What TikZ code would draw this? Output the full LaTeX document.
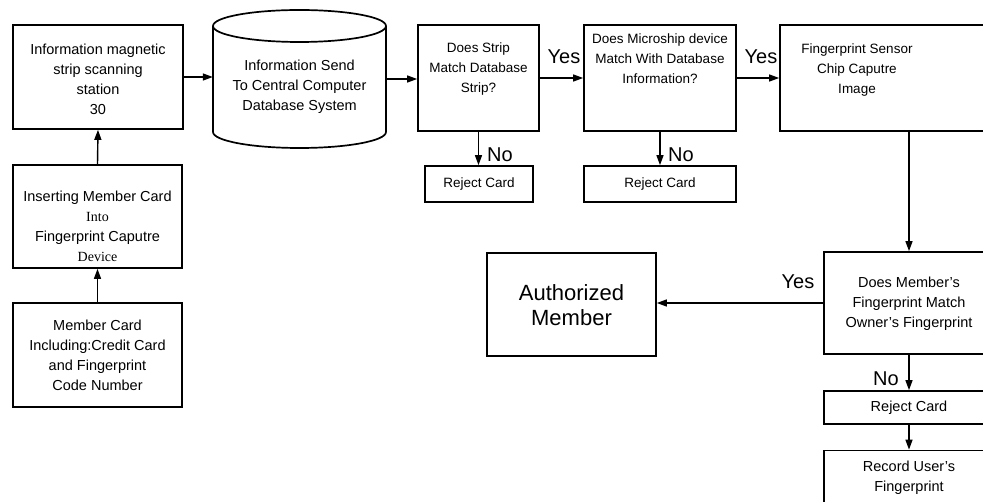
\documentclass[tikz,border=0pt]{standalone}
\usepackage{fontspec}
\setmainfont{Liberation Sans}
\newfontfamily\serifb{Liberation Serif}
\usetikzlibrary{arrows.meta}
\begin{document}
\begin{tikzpicture}[x=1pt,y=-1pt,
  box/.style={draw,line width=1.7pt,rectangle,inner sep=0pt},
  ghost/.style={rectangle,inner sep=0pt},
  txt/.style={align=center,inner sep=0pt,font=\fontsize{14.5}{20}\selectfont},
  txts/.style={align=center,inner sep=0pt,font=\fontsize{13.5}{20}\selectfont},
  lbl/.style={inner sep=0pt,font=\fontsize{20}{22}\selectfont},
  conn/.style={line width=1.4pt,-{Triangle[length=10pt,width=7pt]}}]
\path[use as bounding box,fill=white] (0,0) rectangle (983,502);
\clip (0,0) rectangle (983,502);
% boxes
\node[box,minimum width=170,minimum height=104] (b1) at (98,77) {};
\node[txt] (b1t) at (98,79) {Information magnetic\\strip scanning\\station\\30};
\node[ghost,minimum width=173,minimum height=138] (cyl) at (299.5,79) {};
\draw[line width=1.7pt] (299.5,26) ellipse [x radius=86.5pt, y radius=16pt];
\draw[line width=1.7pt] (213,26) -- (213,132) arc[start angle=180,end angle=360,x radius=86.5pt,y radius=16pt] -- (386,26);
\node[txt] (cylt) at (299.5,87) {Information Send\\To Central Computer\\Database System};
\node[box,minimum width=121,minimum height=106] (b3) at (478.5,78) {};
\node[txts] (b3t) at (478.5,69) {Does Strip\\Match Database\\Strip?};
\node[box,minimum width=152,minimum height=106] (b4) at (660,78) {};
\node[txts] (b4t) at (660,59) {Does Microship device\\Match With Database\\Information?};
\node[box,minimum width=258,minimum height=106] (b5) at (909,78) {};
\node[txts] (b5t) at (857,70) {Fingerprint Sensor\\Chip Caputre\\Image};
\node[box,minimum width=108,minimum height=36] (r1) at (479,184) {};
\node[txts] (r1t) at (479,184) {Reject Card};
\node[box,minimum width=152,minimum height=36] (r2) at (660,184) {};
\node[txts] (r2t) at (660,184) {Reject Card};
\node[box,minimum width=169,minimum height=103] (b2) at (97.5,216.5) {};
\node[txt] (b2t) at (97.5,226) {Inserting Member Card\\{\serifb\fontsize{14}{16}\selectfont Into}\\Fingerprint Caputre\\{\serifb\fontsize{14}{16}\selectfont Device}};
\node[box,minimum width=169,minimum height=104] (m) at (97.5,355) {};
\node[txt] (mt) at (97.5,355) {Member Card\\Including:Credit Card\\and Fingerprint\\Code Number};
\node[box,minimum width=169,minimum height=103] (auth) at (571.5,304.5) {};
\node[align=center,inner sep=0pt,font=\fontsize{22}{25}\selectfont] (autht) at (571.5,305) {Authorized\\Member};
\node[box,minimum width=170,minimum height=102] (dec) at (909,303) {};
\node[txt] (dect) at (909,304) {Does Member's\\Fingerprint Match\\Owner's Fingerprint};
\node[box,minimum width=170,minimum height=33] (r3) at (909,407.5) {};
\node[txt] (r3t) at (909,407.5) {Reject Card};
\node[box,minimum width=170,minimum height=79] (rec) at (909,490) {};
\node[txt] (rect) at (909,478) {Record User's\\Fingerprint};
% connectors
\draw[conn] (m.north) -- (b2.south);
\draw[conn] (b2.north) -- (b1.south);
\draw[conn] (b1.east) -- (b1.east -| cyl.west);
\draw[conn] (cyl.east) -- (cyl.east -| b3.west);
\draw[conn] (b3.east) -- (b4.west);
\draw[conn] (b4.east) -- (b5.west);
\draw[conn] (b3.south) -- (b3.south |- r1.north);
\draw[conn] (b4.south) -- (r2.north);
\draw[conn] (b5.south) -- (dec.north);
\draw[conn] (dec.west) -- (dec.west -| auth.east);
\draw[conn] (dec.south) -- (r3.north);
\draw[conn] (r3.south) -- (rec.north);
% labels
\node[lbl] (y1) at (564,57) {Yes};
\node[lbl] (y2) at (761,57) {Yes};
\node[lbl] (y3) at (798,282) {Yes};
\node[lbl] (n1) at (500,155) {No};
\node[lbl] (n2) at (681,155) {No};
\node[lbl] (n3) at (886,379) {No};
\end{tikzpicture}
\end{document}
